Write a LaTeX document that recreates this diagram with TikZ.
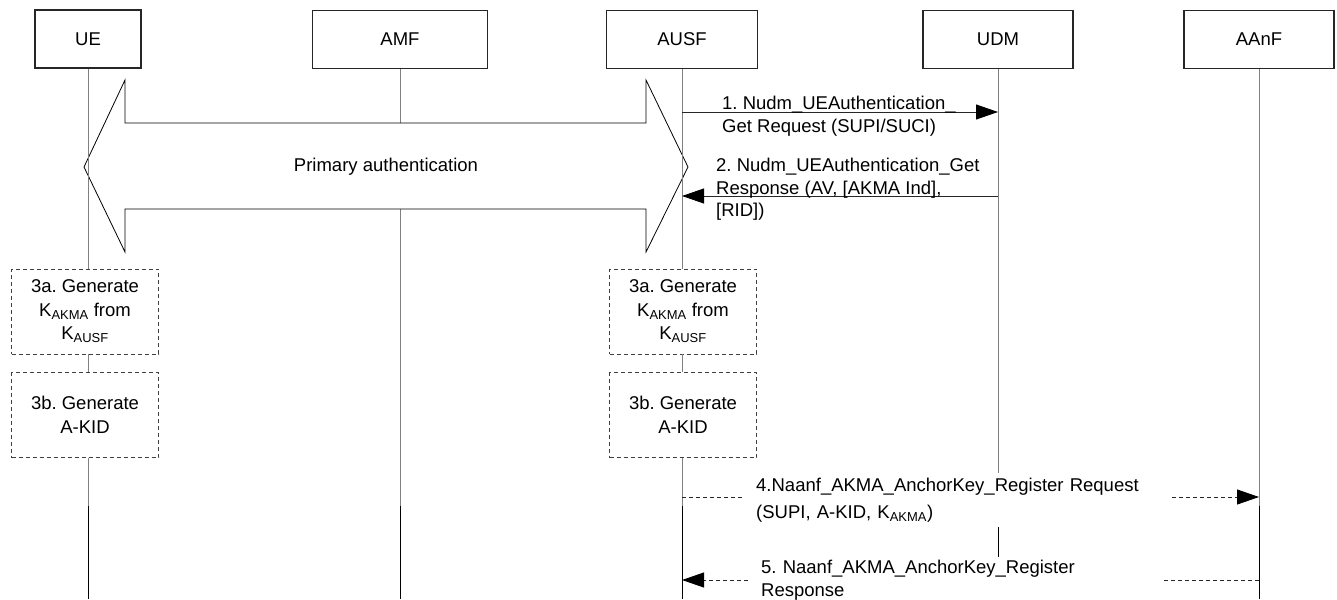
\documentclass[tikz,border=0pt]{standalone}
\usepackage{fontspec}
\setmainfont{Liberation Sans}
\usepackage{tikz}
\usetikzlibrary{arrows.meta}
\frenchspacing

\tikzset{entity/.style={draw=black!85,line width=1.1pt,minimum height=58pt,inner sep=0pt},
stepbox/.style={draw=black!75,line width=0.9pt,dash pattern=on 4pt off 3pt,minimum width=147pt,minimum height=85pt,align=center,inner sep=0pt,font=\fontsize{18.5}{23.5}\selectfont},
life/.style={black!50,line width=0.9pt},
lifelow/.style={black,line width=1pt},
msg/.style={black!85,line width=0.9pt,-{Triangle[length=22pt,width=15pt,color=black]}},
dmsg/.style={msg,dash pattern=on 4pt off 3pt},
msgtext/.style={align=left,inner sep=0pt,anchor=north west}}

\begin{document}
\begin{tikzpicture}[x=1pt,y=-1pt,font=\fontsize{18.5}{22.5}\selectfont]
\useasboundingbox (0,0) rectangle (1337,599);
\node[entity,minimum width=106pt] (UE) at (88,39) {UE};
\node[entity,minimum width=175pt] (AMF) at (400,39.5) {AMF};
\node[entity,minimum width=151pt] (AUSF) at (682,39.5) {AUSF};
\node[entity,minimum width=150pt] (UDM) at (998,39.5) {UDM};
\node[entity,minimum width=150pt] (AAnF) at (1259,39.5) {AAnF};
\coordinate (mid) at (0,506);
\coordinate (bot) at (0,599);
\coordinate (m1) at (0,112);
\coordinate (m2) at (0,196);
\coordinate (m4) at (0,497);
\coordinate (m5) at (0,580);
%
\draw[life] (AMF.south) -- (AMF |- mid);
\draw[lifelow] (AMF |- mid) -- (AMF |- bot);
\draw[line width=0.8pt,fill=white] (84,167) -- (125,80) -- (125,123) -- (646,123) -- (646,80) -- (688,167) -- (646,252) -- (646,209) -- (125,209) -- (125,252) -- cycle;
\node (pa) at (386,167) {Primary authentication};
%
\node[stepbox] (UEa) at (85,311.5) {3a. Generate\\K\textsubscript{AKMA} from\\K\textsubscript{AUSF}};
\node[stepbox] (UEb) at (85,415) {3b. Generate\\A-KID};
\node[stepbox] (AUSFa) at (683,311.5) {3a. Generate\\K\textsubscript{AKMA} from\\K\textsubscript{AUSF}};
\node[stepbox] (AUSFb) at (683,415) {3b. Generate\\A-KID};
%
\draw[life] (UE.south) -- (UE |- UEa.north) (UE |- UEa.south) -- (UE |- UEb.north) (UE |- UEb.south) -- (UE |- mid);
\draw[lifelow] (UE |- mid) -- (UE |- bot);
\draw[life] (AUSF.south) -- (AUSF |- AUSFa.north) (AUSF |- AUSFa.south) -- (AUSF |- AUSFb.north) (AUSF |- AUSFb.south) -- (AUSF |- mid);
\draw[lifelow] (AUSF |- mid) -- (AUSF |- bot);
\draw[life] (UDM.south) -- (UDM |- mid);
\draw[lifelow] (UDM |- mid) -- (UDM |- bot);
\draw[life] (AAnF.south) -- (AAnF |- mid);
\draw[lifelow] (AAnF |- mid) -- (AAnF |- bot);
%
\draw[msg] (AUSF |- m1) -- (UDM |- m1);
\node[msgtext] (t1) at (722,96) {1. Nudm\_UEAuthentication\_\\Get Request (SUPI/SUCI)};
\draw[msg] (UDM |- m2) -- (AUSF |- m2);
\node[msgtext] (t2) at (716,158) {2. Nudm\_UEAuthentication\_Get\\Response (AV, [AKMA Ind],\\{}[RID])};
\draw[dmsg] (AUSF |- m4) -- (AAnF |- m4);
\node[msgtext,fill=white,text width=402pt,inner xsep=11pt,inner ysep=5pt] (t4) at (745,473) {4.Naanf\_AKMA\_AnchorKey\_Register Request\\[4.5pt](SUPI, A-KID, K\textsubscript{AKMA})};
\draw[dmsg] (AAnF |- m5) -- (AUSF |- m5);
\node[msgtext,fill=white,text width=393pt,inner xsep=10pt,inner ysep=3pt] (t5) at (751,557) {5. Naanf\_AKMA\_AnchorKey\_Register\\Response};
\end{tikzpicture}
\end{document}
